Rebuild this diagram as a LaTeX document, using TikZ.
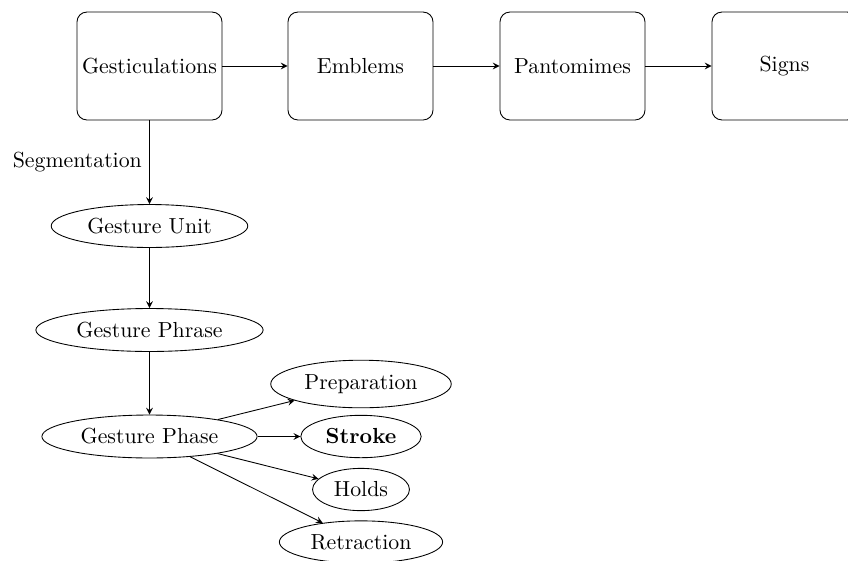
\documentclass[tikz,border=0pt]{standalone}
\usetikzlibrary{shapes.geometric,arrows}
\begin{document}
\begin{tikzpicture}[x=0.4587pt,y=-0.4587pt,
  stagebox/.style={draw, rounded corners=4.5pt, minimum width=66.5pt, minimum height=49.5pt, inner sep=2pt},
  unitell/.style={draw, ellipse},
  flow/.style={-stealth}]
\clip (0,0) rectangle (848,560);
% continuum of gesture types
\node[stagebox] (gest) at (149.5,66) {Gesticulations};
\node[stagebox] (embl) at (360.5,66) {Emblems};
\node[stagebox] (pant) at (572.5,66) {Pantomimes};
\node[stagebox] (sign) at (784.5,66) {Signs};
\draw[flow] (gest) -- (embl);
\draw[flow] (embl) -- (pant);
\draw[flow] (pant) -- (sign);
% segmentation hierarchy
\node[unitell] (unit) at (149.5,226) {Gesture Unit};
\node[unitell] (phrase) at (149.5,330) {Gesture Phrase};
\node[unitell] (phase) at (149.5,436.5) {Gesture Phase};
\draw[flow] (gest) -- node[left] {Segmentation} (unit);
\draw[flow] (unit) -- (phrase);
\draw[flow] (phrase) -- (phase);
% phases
\node[unitell] (prep) at (361,384) {Preparation};
\node[unitell] (stroke) at (361,436.5) {\textbf{Stroke}};
\node[unitell] (holds) at (361,489.5) {Holds};
\node[unitell] (retr) at (361,542) {Retraction};
\draw[flow] (phase) -- (prep);
\draw[flow] (phase) -- (stroke);
\draw[flow] (phase) -- (holds);
\draw[flow] (phase) -- (retr);
\end{tikzpicture}
\end{document}
